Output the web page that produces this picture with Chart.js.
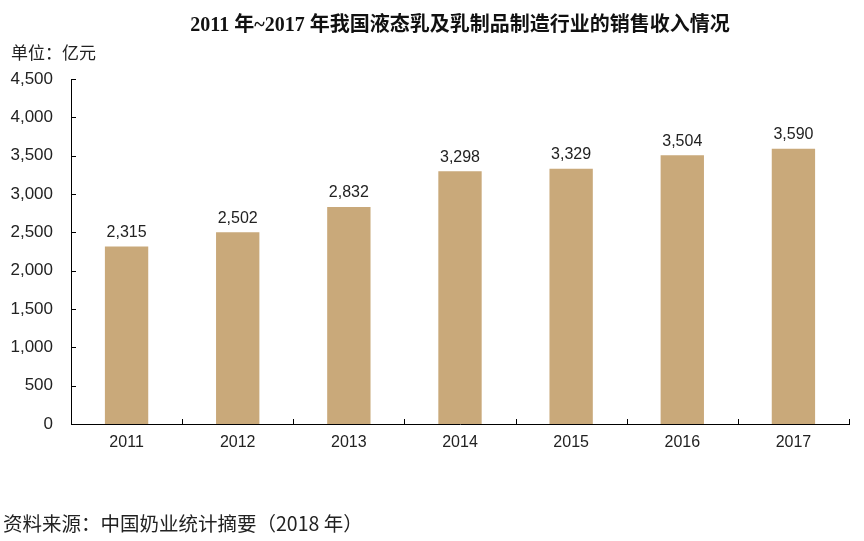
<!DOCTYPE html>
<html>
<head>
<meta charset="utf-8">
<script src="https://cdn.jsdelivr.net/npm/chart.js@4/dist/chart.umd.min.js"></script>
<style>
  body { margin: 0; background: #fff; }
  #wrap { position: relative; width: 864px; height: 541px; }
  .txt { position: absolute; white-space: nowrap; color: #111; line-height: 1; }
  #title { left: 0; width: 920px; top: 14px; text-align: center; font: bold 20px/1 "Liberation Serif", "Noto Sans CJK SC", serif; }
  #unit { left: 11px; top: 43px; font: 17px/1 "Noto Sans CJK SC", sans-serif; color: #222; }
  #source { left: 3px; top: 513px; font: 19.5px/1 "Noto Sans CJK SC", sans-serif; color: #222; }
</style>
</head>
<body>
<div id="wrap">
  <canvas id="myChart" width="864" height="541"></canvas>
  <div class="txt" id="title">2011 年~2017 年我国液态乳及乳制品制造行业的销售收入情况</div>
  <div class="txt" id="unit">单位：亿元</div>
  <div class="txt" id="source">资料来源：中国奶业统计摘要（2018 年）</div>
</div>
<script>
// 数据
var years = ['2011', '2012', '2013', '2014', '2015', '2016', '2017'];
var sales = [2315, 2502, 2832, 3298, 3329, 3504, 3590];
var yTicks = [0, 500, 1000, 1500, 2000, 2500, 3000, 3500, 4000, 4500];

var fontFamily = '"Liberation Sans", Arial, sans-serif';

// Tick kecil ke arah dalam + label nilai di atas batang
var extras = {
    id: 'extras',
    afterDraw: function(chart) {
        var c = chart.ctx;
        var x = chart.scales.x, y = chart.scales.y;
        var area = chart.chartArea;
        c.save();
        c.strokeStyle = '#000';
        c.lineWidth = 1;
        c.beginPath();
        // tick sumbu y
        yTicks.forEach(function(v) {
            var py = Math.round(y.getPixelForValue(v)) + 0.5;
            c.moveTo(area.left, py);
            c.lineTo(area.left + 5, py);
        });
        // tick sumbu x di batas kategori
        var half = (x.getPixelForValue(1) - x.getPixelForValue(0)) / 2;
        for (var i = 0; i < years.length; i++) {
            var px = Math.round(x.getPixelForValue(i) + half) + 0.5;
            c.moveTo(px, area.bottom);
            c.lineTo(px, area.bottom - 5);
        }
        c.stroke();

        // label nilai
        c.fillStyle = '#222';
        c.font = '16px ' + fontFamily;
        c.textAlign = 'center';
        c.textBaseline = 'middle';
        chart.getDatasetMeta(0).data.forEach(function(bar, i) {
            c.fillText(sales[i].toLocaleString('en-US'), bar.x, bar.y - 14);
        });
        c.restore();
    }
};

var ctx = document.getElementById('myChart').getContext('2d');
window.myChart = new Chart(ctx, {
    type: 'bar',
    data: {
        labels: years,
        datasets: [{
            label: '销售收入',
            data: sales,
            backgroundColor: '#C9A97A',
            barPercentage: 0.39,
            categoryPercentage: 1
        }]
    },
    options: {
        responsive: false,
        animation: false,
        devicePixelRatio: 1,
        layout: { padding: { left: 0, right: 15, top: 79, bottom: 0 } },
        plugins: {
            legend: { display: false },
            tooltip: { enabled: false }
        },
        scales: {
            x: {
                grid: { display: false, drawTicks: false },
                border: { display: true, color: '#000', width: 1 },
                ticks: {
                    color: '#222',
                    font: { family: fontFamily, size: 16 },
                    padding: 9
                },
                afterFit: function(s) { s.height = 117; }
            },
            y: {
                min: 0,
                max: 4500,
                grid: { display: false, drawTicks: false },
                border: { display: true, color: '#000', width: 1 },
                afterBuildTicks: function(s) {
                    s.ticks = yTicks.map(function(v) { return { value: v }; });
                },
                ticks: {
                    color: '#222',
                    font: { family: fontFamily, size: 17 },
                    padding: 18,
                    callback: function(v) { return v.toLocaleString('en-US'); }
                },
                afterFit: function(s) { s.width = 71; }
            }
        }
    },
    plugins: [extras]
});
</script>
</body>
</html>
